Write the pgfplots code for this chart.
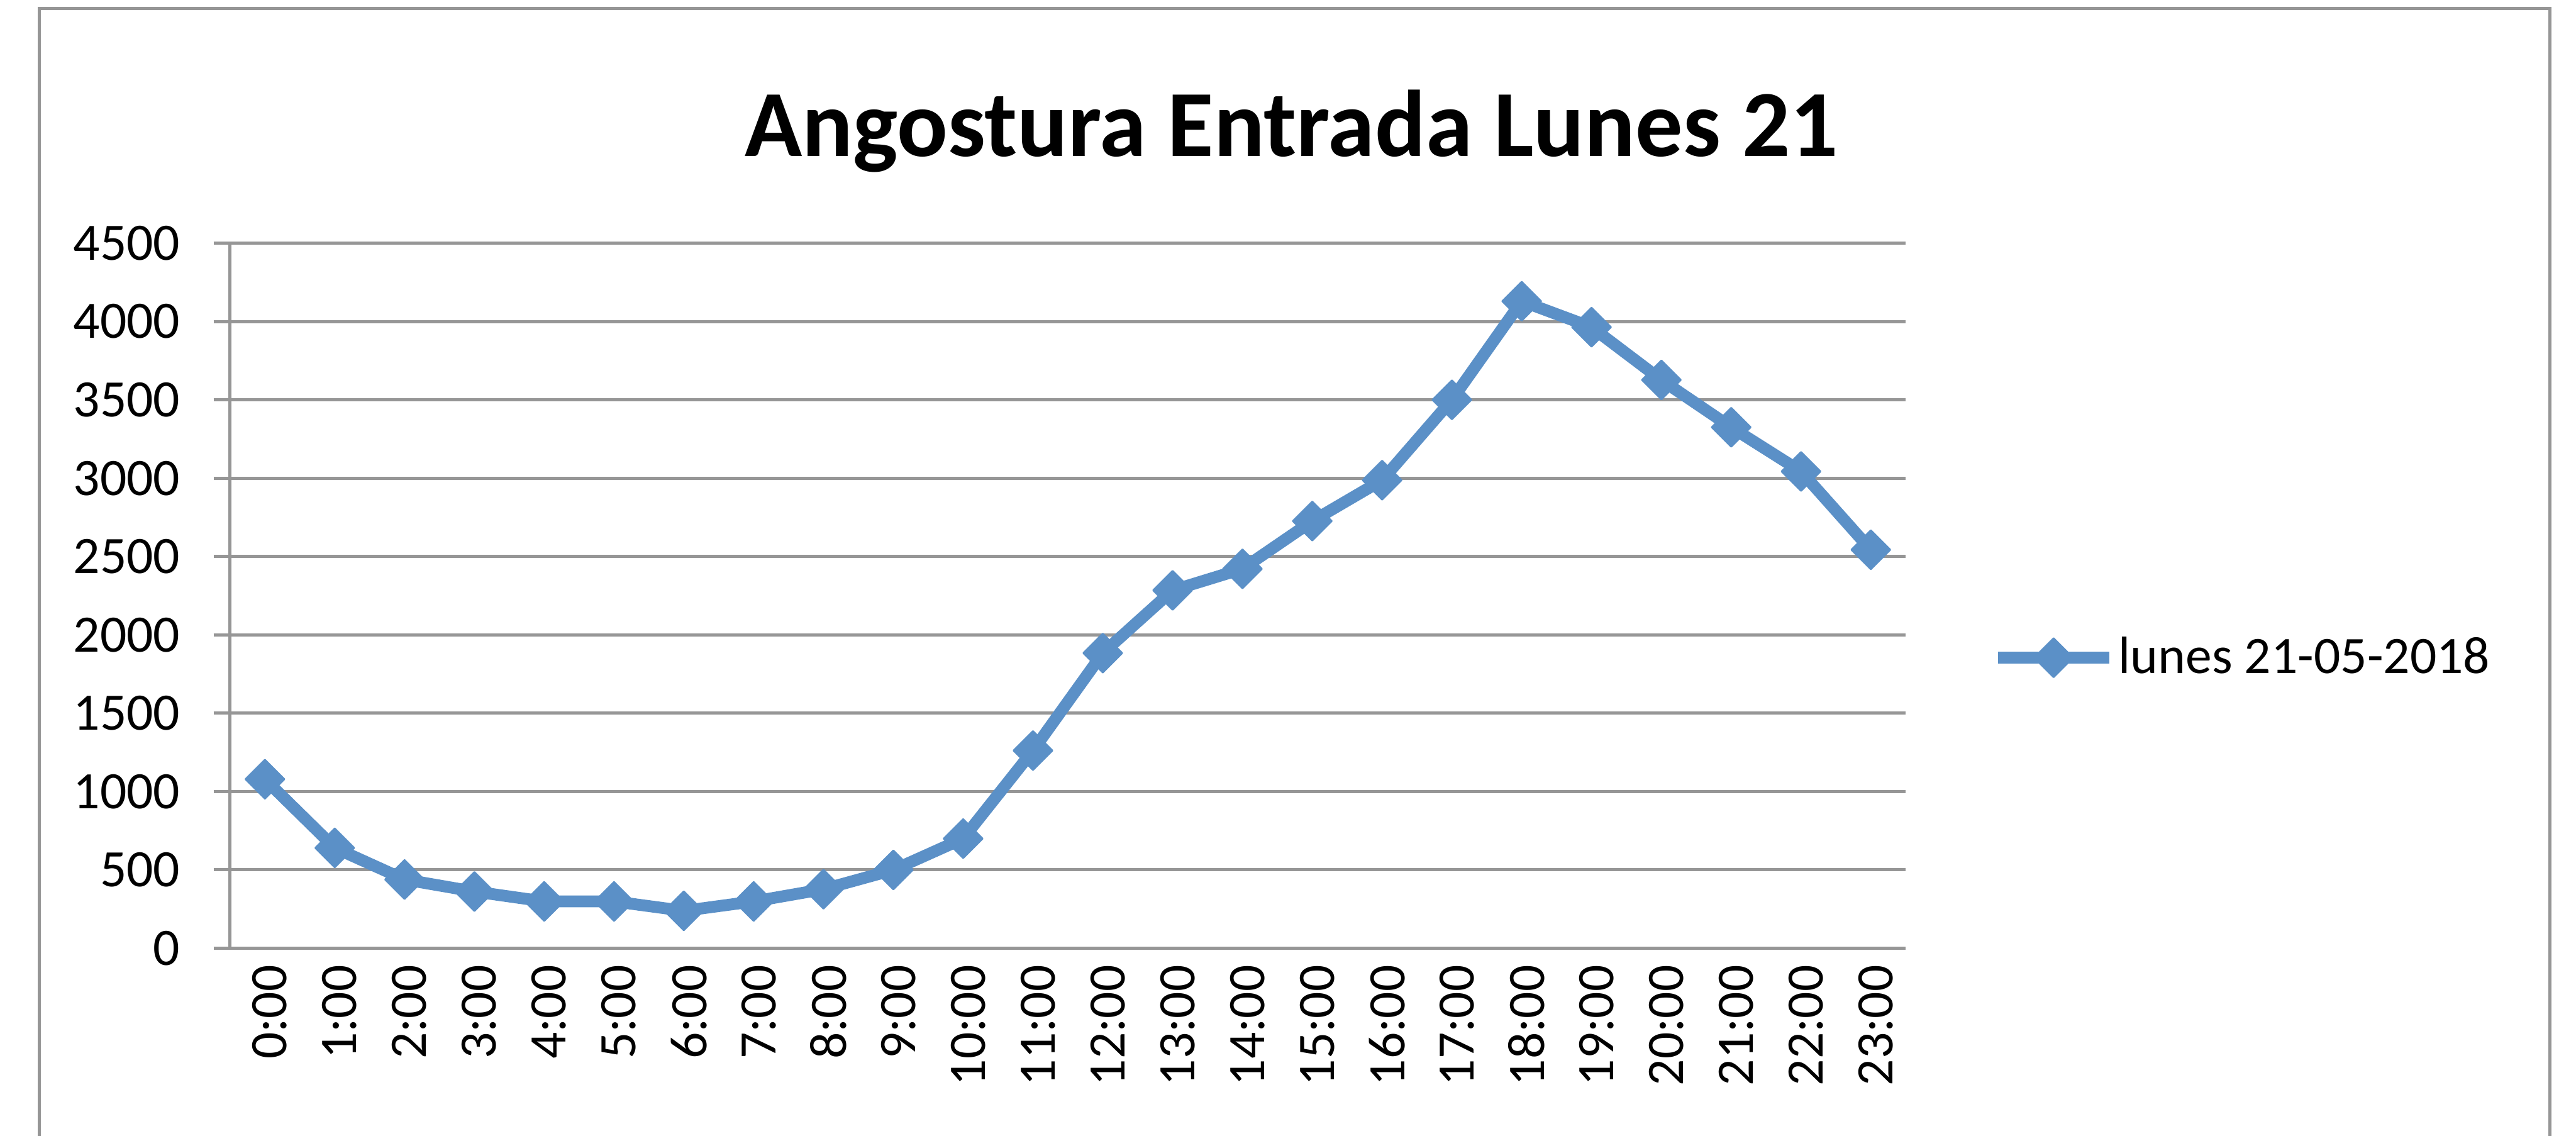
\documentclass[border=0pt]{standalone}
\usepackage{pgfplots}
\pgfplotsset{compat=1.18}
\usepackage{fontspec}
\setmainfont{Carlito}
\definecolor{series}{RGB}{91,144,199}
\definecolor{gridgray}{RGB}{150,150,150}
\begin{document}
\begin{tikzpicture}
\path[use as bounding box] (0pt,0pt) rectangle (784pt,345.5pt);
\draw[gridgray, line width=0.95pt] (12pt,-20pt) -- (12pt,343pt) -- (776pt,343pt) -- (776pt,-20pt);
\node[anchor=base, inner sep=0pt, font=\bfseries\fontsize{28.8}{34}\selectfont] at (393pt,298pt) {Angostura Entrada Lunes 21};
\begin{axis}[
  at={(70pt,57pt)}, anchor=south west,
  scale only axis, width=510pt, height=214.5pt,
  xmin=-0.5, xmax=23.5, ymin=0, ymax=4500,
  clip=false,
  axis x line*=bottom, axis y line*=left,
  axis line style={gridgray, line width=1pt},
  ytick={0,500,...,4500},
  ymajorgrids, grid style={gridgray, line width=1pt},
  xtick={0,...,23},
  xticklabels={0:00,1:00,2:00,3:00,4:00,5:00,6:00,7:00,8:00,9:00,10:00,11:00,12:00,13:00,14:00,15:00,16:00,17:00,18:00,19:00,20:00,21:00,22:00,23:00},
  major x tick style={draw=none},
  extra x ticks={-0.5,0.5,...,23.5},
  extra x tick labels={},
  extra x tick style={grid=none, major tick style={draw=gridgray, line width=1pt}},
  tick align=outside,
  major tick length=5pt,
  tick style={gridgray, line width=1pt},
  /pgf/number format/1000 sep={},
  /pgf/number format/assume math mode=true,
  tick label style={font=\fontsize{16}{19}\selectfont, text=black},
  x tick label style={rotate=90, anchor=east, inner sep=0pt, yshift=-1.5pt},
  y tick label style={inner sep=0pt, xshift=-10pt},
  legend style={at={(1.051,0.412)}, anchor=west, draw=none, fill=none, inner sep=0pt,
    nodes={inner sep=1pt}, font=\fontsize{16}{19}\selectfont},
  legend image code/.code={\draw[mark repeat=2, mark phase=2, #1] plot coordinates {(0pt,0pt) (17pt,0pt) (34pt,0pt)};},
]
\addplot[color=series, line width=3.6pt, line join=round, mark=square*, mark size=4.2pt,
  mark options={rotate=45, line width=0.5pt, fill=series}]
coordinates {
(0,1078)(1,640)(2,438)(3,361)(4,298)(5,298)(6,238)(7,298)(8,376)(9,499)(10,699)(11,1261)
(12,1883)(13,2284)(14,2421)(15,2726)(16,2987)(17,3500)(18,4130)(19,3964)(20,3627)(21,3325)
(22,3043)(23,2543)
};
\addlegendentry{lunes 21-05-2018}
\end{axis}
\end{tikzpicture}
\end{document}
